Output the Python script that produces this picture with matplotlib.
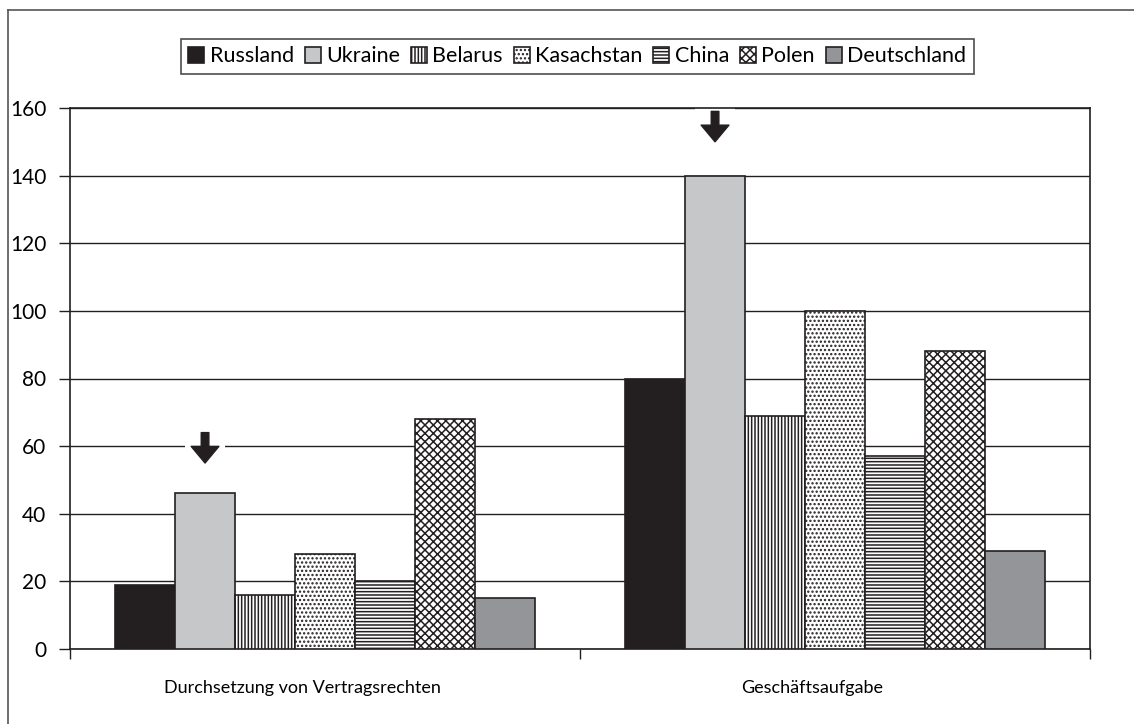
import matplotlib
matplotlib.use("Agg")
import matplotlib.pyplot as plt
import numpy as np
from matplotlib.lines import Line2D
from matplotlib.patches import Rectangle

plt.rcParams['font.family'] = ['Lato', 'DejaVu Sans']
plt.rcParams['hatch.linewidth'] = 1.1

categories = ['Durchsetzung von Vertragsrechten', 'Geschäftsaufgabe']
countries = ['Russland', 'Ukraine', 'Belarus', 'Kasachstan', 'China', 'Polen', 'Deutschland']
values = {
    'Russland':    [19, 80],
    'Ukraine':     [46, 140],
    'Belarus':     [16, 69],
    'Kasachstan':  [28, 100],
    'China':       [20, 57],
    'Polen':       [68, 88],
    'Deutschland': [15, 29],
}
# arrows mark the Ukraine bars (top, bottom of arrow in data units)
arrow_country = 'Ukraine'
arrow_top = [64, 159]
arrow_bottom = [55, 150]

fills = ['#231f20', '#c6c7c9', 'white', 'white', 'white', 'white', '#939598']
hatches = [None, None, '|||||', '....', '-----', 'xxxx', None]
ink = '#231f20'

fig = plt.figure(figsize=(11.34, 7.24), dpi=100)
ax = fig.add_axes([70/1134, 1-649/724, 1020/1134, 541/724])

x = np.arange(len(categories))
w = 0.1176
handles = []
for i, c in enumerate(countries):
    b = ax.bar(x + (i-3)*w, values[c], w, color=fills[i], edgecolor=ink,
               hatch=hatches[i], linewidth=1.2, zorder=3, label=c)
    handles.append(b)

# arrows above Ukraine bars
ui = countries.index(arrow_country)
for k in range(len(categories)):
    cx = x[k] + (ui-3)*w
    ax.add_patch(Rectangle((cx - 0.04, arrow_bottom[k] - 1), 0.08,
                           arrow_top[k] - arrow_bottom[k] + 2,
                           facecolor='white', edgecolor='none', zorder=2))
    ax.annotate('', xy=(cx, arrow_bottom[k]), xytext=(cx, arrow_top[k]),
                arrowprops=dict(arrowstyle='simple,head_width=2.0,head_length=1.2,tail_width=0.55',
                                color=ink, shrinkA=0, shrinkB=0), zorder=4)

ax.set_xlim(-0.5, 1.5)
ax.set_ylim(0, 160)
ax.set_yticks(np.arange(0, 161, 20))
ax.yaxis.grid(True, color=ink, linewidth=1.0, zorder=1)
ax.set_axisbelow(True)

ax.set_xticks([-0.5, 0.5, 1.5])
ax.set_xticklabels([])
# category labels, sitting a little left of centre as in the original
for k, cat in enumerate(categories):
    ax.annotate(cat, xy=(x[k], 0), xycoords=('data', 'axes fraction'),
                xytext=(-23, -39), textcoords='offset pixels',
                ha='center', va='center', fontsize=13)
ax.tick_params(axis='x', which='major', length=7, direction='out', color=ink, width=1)
ax.tick_params(axis='y', length=8, direction='out', color=ink, width=1,
               labelsize=15, pad=9)
for s in ax.spines.values():
    s.set_color(ink)
    s.set_linewidth(1.2)

leg = fig.legend(handles=handles, labels=countries, loc='center',
                 bbox_to_anchor=(0.509, 0.922), ncol=7, fontsize=15.5,
                 frameon=True, fancybox=False, handlelength=0.75, handleheight=0.75,
                 handletextpad=0.25, columnspacing=0.5, borderpad=0.35,
                 borderaxespad=0)
leg.get_frame().set_edgecolor(ink)
leg.get_frame().set_linewidth(1.2)

# outer frame of the figure box
fig.add_artist(Line2D([8/1134, 1], [1-10/724, 1-10/724], color='#555555', lw=1.2))
fig.add_artist(Line2D([8/1134, 8/1134], [0, 1-10/724], color='#555555', lw=1.2))

fig.savefig('out.png', dpi=100)
